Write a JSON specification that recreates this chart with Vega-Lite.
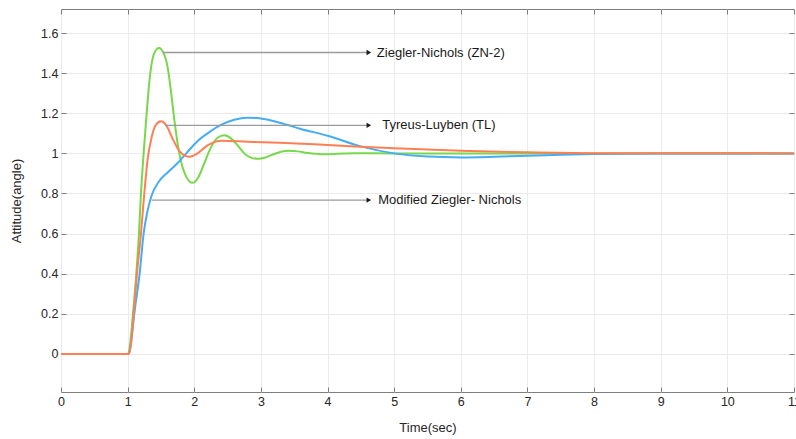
{
  "$schema": "https://vega.github.io/schema/vega-lite/v6.json",
  "width": 733,
  "height": 383,
  "autosize": {"type": "none"},
  "padding": {"left": 61, "top": 9, "right": 2, "bottom": 47},
  "background": "white",
  "config": {
    "font": "Liberation Sans",
    "view": {"stroke": "#7f7f7f", "strokeWidth": 1},
    "axis": {
      "grid": true, "gridColor": "#ebebeb", "gridWidth": 1,
      "domain": false,
      "tickColor": "#7f7f7f", "tickSize": -5,
      "labelColor": "#262626", "labelFontSize": 12.5, "labelFont": "Liberation Sans",
      "titleColor": "#262626", "titleFontSize": 13, "titleFontWeight": "normal", "titleFont": "Liberation Sans"
    }
  },
  "datasets": {
    "curves": [
      {"t": 0, "y": 0, "s": "ZN"}, {"t": 1.0, "y": 0, "s": "ZN"}, {"t": 1.03, "y": 0.03, "s": "ZN"},
      {"t": 1.08, "y": 0.2, "s": "ZN"}, {"t": 1.13, "y": 0.4, "s": "ZN"}, {"t": 1.17, "y": 0.6, "s": "ZN"},
      {"t": 1.2, "y": 0.8, "s": "ZN"}, {"t": 1.24, "y": 1.0, "s": "ZN"}, {"t": 1.29, "y": 1.22, "s": "ZN"},
      {"t": 1.34, "y": 1.4, "s": "ZN"}, {"t": 1.4, "y": 1.5, "s": "ZN"}, {"t": 1.47, "y": 1.525, "s": "ZN"},
      {"t": 1.54, "y": 1.5, "s": "ZN"}, {"t": 1.6, "y": 1.43, "s": "ZN"}, {"t": 1.65, "y": 1.31, "s": "ZN"},
      {"t": 1.7, "y": 1.17, "s": "ZN"}, {"t": 1.75, "y": 1.05, "s": "ZN"}, {"t": 1.8, "y": 0.96, "s": "ZN"},
      {"t": 1.87, "y": 0.89, "s": "ZN"}, {"t": 1.97, "y": 0.853, "s": "ZN"}, {"t": 2.06, "y": 0.88, "s": "ZN"},
      {"t": 2.15, "y": 0.95, "s": "ZN"}, {"t": 2.25, "y": 1.03, "s": "ZN"}, {"t": 2.35, "y": 1.078, "s": "ZN"},
      {"t": 2.45, "y": 1.09, "s": "ZN"}, {"t": 2.55, "y": 1.075, "s": "ZN"}, {"t": 2.65, "y": 1.04, "s": "ZN"},
      {"t": 2.75, "y": 1.0, "s": "ZN"}, {"t": 2.85, "y": 0.979, "s": "ZN"}, {"t": 2.96, "y": 0.973, "s": "ZN"},
      {"t": 3.07, "y": 0.98, "s": "ZN"}, {"t": 3.2, "y": 0.997, "s": "ZN"}, {"t": 3.3, "y": 1.008, "s": "ZN"},
      {"t": 3.42, "y": 1.013, "s": "ZN"}, {"t": 3.55, "y": 1.01, "s": "ZN"}, {"t": 3.7, "y": 1.002, "s": "ZN"},
      {"t": 3.9, "y": 0.996, "s": "ZN"}, {"t": 4.1, "y": 0.997, "s": "ZN"}, {"t": 4.4, "y": 1.001, "s": "ZN"},
      {"t": 5, "y": 1.0, "s": "ZN"}, {"t": 11, "y": 1.0, "s": "ZN"},

      {"t": 0, "y": 0, "s": "MZN"}, {"t": 1.02, "y": 0, "s": "MZN"}, {"t": 1.06, "y": 0.08, "s": "MZN"},
      {"t": 1.1, "y": 0.2, "s": "MZN"}, {"t": 1.18, "y": 0.4, "s": "MZN"}, {"t": 1.24, "y": 0.6, "s": "MZN"},
      {"t": 1.29, "y": 0.7, "s": "MZN"}, {"t": 1.36, "y": 0.79, "s": "MZN"}, {"t": 1.47, "y": 0.86, "s": "MZN"},
      {"t": 1.6, "y": 0.905, "s": "MZN"}, {"t": 1.75, "y": 0.952, "s": "MZN"}, {"t": 1.88, "y": 1.0, "s": "MZN"},
      {"t": 2.05, "y": 1.062, "s": "MZN"}, {"t": 2.2, "y": 1.1, "s": "MZN"}, {"t": 2.4, "y": 1.142, "s": "MZN"},
      {"t": 2.6, "y": 1.168, "s": "MZN"}, {"t": 2.8, "y": 1.178, "s": "MZN"}, {"t": 3.0, "y": 1.174, "s": "MZN"},
      {"t": 3.28, "y": 1.153, "s": "MZN"}, {"t": 3.6, "y": 1.122, "s": "MZN"}, {"t": 4.0, "y": 1.088, "s": "MZN"},
      {"t": 4.5, "y": 1.035, "s": "MZN"}, {"t": 5.0, "y": 1.0, "s": "MZN"}, {"t": 5.5, "y": 0.984, "s": "MZN"},
      {"t": 6.0, "y": 0.98, "s": "MZN"}, {"t": 6.5, "y": 0.983, "s": "MZN"}, {"t": 7.0, "y": 0.988, "s": "MZN"},
      {"t": 7.5, "y": 0.993, "s": "MZN"}, {"t": 8.0, "y": 0.997, "s": "MZN"}, {"t": 9.0, "y": 1.0, "s": "MZN"},
      {"t": 11, "y": 1.0, "s": "MZN"},

      {"t": 0, "y": 0, "s": "TL"}, {"t": 1.02, "y": 0, "s": "TL"}, {"t": 1.05, "y": 0.05, "s": "TL"},
      {"t": 1.09, "y": 0.2, "s": "TL"}, {"t": 1.14, "y": 0.4, "s": "TL"}, {"t": 1.2, "y": 0.6, "s": "TL"},
      {"t": 1.25, "y": 0.8, "s": "TL"}, {"t": 1.3, "y": 0.97, "s": "TL"}, {"t": 1.36, "y": 1.08, "s": "TL"},
      {"t": 1.42, "y": 1.14, "s": "TL"}, {"t": 1.5, "y": 1.16, "s": "TL"}, {"t": 1.58, "y": 1.14, "s": "TL"},
      {"t": 1.68, "y": 1.07, "s": "TL"}, {"t": 1.78, "y": 1.01, "s": "TL"}, {"t": 1.93, "y": 0.983, "s": "TL"},
      {"t": 2.05, "y": 1.0, "s": "TL"}, {"t": 2.2, "y": 1.04, "s": "TL"}, {"t": 2.41, "y": 1.063, "s": "TL"},
      {"t": 2.8, "y": 1.058, "s": "TL"}, {"t": 3.28, "y": 1.053, "s": "TL"}, {"t": 4.0, "y": 1.042, "s": "TL"},
      {"t": 5.0, "y": 1.025, "s": "TL"}, {"t": 6.0, "y": 1.013, "s": "TL"}, {"t": 7.0, "y": 1.005, "s": "TL"},
      {"t": 8.0, "y": 1.001, "s": "TL"}, {"t": 11, "y": 1.0, "s": "TL"}
    ],
    "notes": [
      {"x1": 1.53, "x2": 4.62, "y": 1.503, "tx": 4.74, "label": "Ziegler-Nichols (ZN-2)"},
      {"x1": 1.56, "x2": 4.62, "y": 1.14, "tx": 4.82, "label": "Tyreus-Luyben (TL)"},
      {"x1": 1.36, "x2": 4.62, "y": 0.767, "tx": 4.76, "label": "Modified Ziegler- Nichols"}
    ]
  },
  "resolve": {"axis": {"x": "independent", "y": "independent"}},
  "layer": [
    {
      "layer": [
        {
          "data": {"name": "curves"},
          "mark": {"type": "line", "strokeWidth": 2, "interpolate": "monotone", "clip": true},
          "encoding": {
            "x": {"field": "t", "type": "quantitative",
                  "scale": {"domain": [0, 11], "nice": false},
                  "axis": {"title": "Time(sec)", "values": [0,1,2,3,4,5,6,7,8,9,10,11], "format": "~g", "labelPadding": 8, "titlePadding": 14, "labelFlush": false}},
            "y": {"field": "y", "type": "quantitative",
                  "scale": {"domain": [-0.19, 1.72], "nice": false, "zero": false},
                  "axis": {"title": "Attitude(angle)", "values": [0,0.2,0.4,0.6,0.8,1,1.2,1.4,1.6], "format": "~g", "labelPadding": 8, "titlePadding": 17}},
            "color": {"field": "s", "type": "nominal", "legend": null,
                      "scale": {"domain": ["ZN", "MZN", "TL"], "range": ["#77d84a", "#45acf5", "#ff7f55"]}},
            "order": {"field": "t"}
          }
        },
        {
          "data": {"name": "notes"},
          "mark": {"type": "rule", "color": "#9a9a9a", "strokeWidth": 1.3},
          "encoding": {
            "x": {"field": "x1", "type": "quantitative",
                  "axis": {"title": "Time(sec)", "values": [0,1,2,3,4,5,6,7,8,9,10,11], "format": "~g", "labelPadding": 8, "titlePadding": 14, "labelFlush": false}},
            "x2": {"field": "x2"},
            "y": {"field": "y", "type": "quantitative",
                  "axis": {"title": "Attitude(angle)", "values": [0,0.2,0.4,0.6,0.8,1,1.2,1.4,1.6], "format": "~g", "labelPadding": 8, "titlePadding": 17}}
          }
        },
        {
          "data": {"name": "notes"},
          "mark": {"type": "point", "shape": "triangle-right", "filled": true, "color": "#1a1a1a", "size": 28, "opacity": 1},
          "encoding": {
            "x": {"field": "x2", "type": "quantitative",
                  "axis": {"title": "Time(sec)", "values": [0,1,2,3,4,5,6,7,8,9,10,11], "format": "~g", "labelPadding": 8, "titlePadding": 14, "labelFlush": false}},
            "y": {"field": "y", "type": "quantitative",
                  "axis": {"title": "Attitude(angle)", "values": [0,0.2,0.4,0.6,0.8,1,1.2,1.4,1.6], "format": "~g", "labelPadding": 8, "titlePadding": 17}}
          }
        },
        {
          "data": {"name": "notes"},
          "mark": {"type": "text", "align": "left", "baseline": "middle", "fontSize": 13, "color": "#1a1a1a", "font": "Liberation Sans"},
          "encoding": {
            "x": {"field": "tx", "type": "quantitative",
                  "axis": {"title": "Time(sec)", "values": [0,1,2,3,4,5,6,7,8,9,10,11], "format": "~g", "labelPadding": 8, "titlePadding": 14, "labelFlush": false}},
            "y": {"field": "y", "type": "quantitative",
                  "axis": {"title": "Attitude(angle)", "values": [0,0.2,0.4,0.6,0.8,1,1.2,1.4,1.6], "format": "~g", "labelPadding": 8, "titlePadding": 17}},
            "text": {"field": "label"}
          }
        }
      ]
    },
    {
      "data": {"name": "curves"},
      "mark": {"type": "point", "opacity": 0},
      "encoding": {
        "x": {"field": "t", "type": "quantitative",
              "scale": {"domain": [0, 11], "nice": false},
              "axis": {"orient": "top", "labels": false, "title": null, "grid": false, "values": [0,1,2,3,4,5,6,7,8,9,10,11]}},
        "y": {"field": "y", "type": "quantitative",
              "scale": {"domain": [-0.19, 1.72], "nice": false, "zero": false},
              "axis": {"orient": "right", "labels": false, "title": null, "grid": false, "values": [0,0.2,0.4,0.6,0.8,1,1.2,1.4,1.6]}}
      }
    }
  ]
}
